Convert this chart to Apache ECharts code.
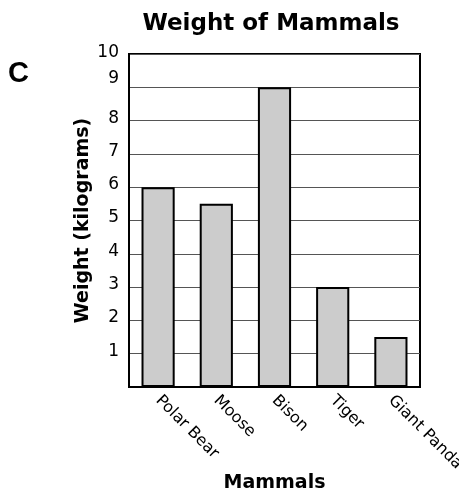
<!DOCTYPE html>
<html><head><meta charset="utf-8">
<script src="https://cdn.jsdelivr.net/npm/echarts@6/dist/echarts.min.js"></script>
<style>html,body{margin:0;padding:0;background:#fff}#c{width:459px;height:496px}</style>
</head><body><div id="c"></div>
<script>
var categories = ["Polar Bear", "Moose", "Bison", "Tiger", "Giant Panda"];
var weights = [6, 5.5, 9, 3, 1.5];
var yTicks = [1, 2, 3, 4, 5, 6, 7, 8, 9, 10];

var font = "DejaVu Sans, Verdana, sans-serif";
var chart = echarts.init(document.getElementById('c'));
chart.setOption({
  animation: false,
  backgroundColor: '#fff',
  title: [{
    text: 'Weight of Mammals', left: 266, top: 8, textAlign: 'center',
    textStyle: {fontFamily: font, fontWeight: 'bold', fontSize: 23, color: '#000'}
  }, {
    text: 'C', left: 3, top: 54,
    textStyle: {fontFamily: 'Liberation Sans, Arial, sans-serif', fontWeight: 'bold', fontSize: 29, color: '#000'}
  }],
  grid: {left: 129, right: 39, top: 54, bottom: 109, containLabel: false, outerBoundsMode: 'none',
    show: true, borderColor: '#000', borderWidth: 2, backgroundColor: 'transparent'},
  xAxis: {
    type: 'category', data: categories,
    name: 'Mammals', nameLocation: 'middle', nameGap: 87, nameMoveOverlap: false,
    nameTextStyle: {fontFamily: font, fontWeight: 'bold', fontSize: 19, color: '#000'},
    axisLine: {lineStyle: {color: '#000', width: 2}},
    axisTick: {show: false},
    axisLabel: {rotate: -45, fontFamily: font, fontSize: 16, color: '#000', margin: 11, interval: 0}
  },
  yAxis: {
    type: 'value', min: 0, max: 10, interval: 1,
    name: 'Weight (kilograms)', nameLocation: 'middle', nameGap: 36, nameRotate: 90, nameMoveOverlap: false,
    nameTextStyle: {fontFamily: font, fontWeight: 'bold', fontSize: 19, color: '#000'},
    axisLine: {show: true, lineStyle: {color: '#000', width: 2}},
    axisTick: {show: false},
    splitLine: {show: true, lineStyle: {color: '#555', width: 1}},
    axisLabel: {
      fontFamily: font, fontSize: 17, color: '#000', margin: 10,
      formatter: function (v) {
        if (yTicks.indexOf(v) < 0) return '';
        if (v === 10) return '{t|' + v + '}';
        if (v === 9) return '{n|' + v + '}';
        return '{d|' + v + '}';
      },
      rich: {
        t: {fontFamily: font, fontSize: 17, color: '#000', padding: [0, 0, 3, 0]},
        n: {fontFamily: font, fontSize: 17, color: '#000', padding: [0, 0, 17, 0]},
        d: {fontFamily: font, fontSize: 17, color: '#000', padding: [0, 0, 5, 0]}
      }
    }
  },
  series: [{
    type: 'bar', data: weights, barWidth: '57%',
    itemStyle: {color: '#cccccc', borderColor: '#000', borderWidth: 2}
  }]
});
</script></body></html>
